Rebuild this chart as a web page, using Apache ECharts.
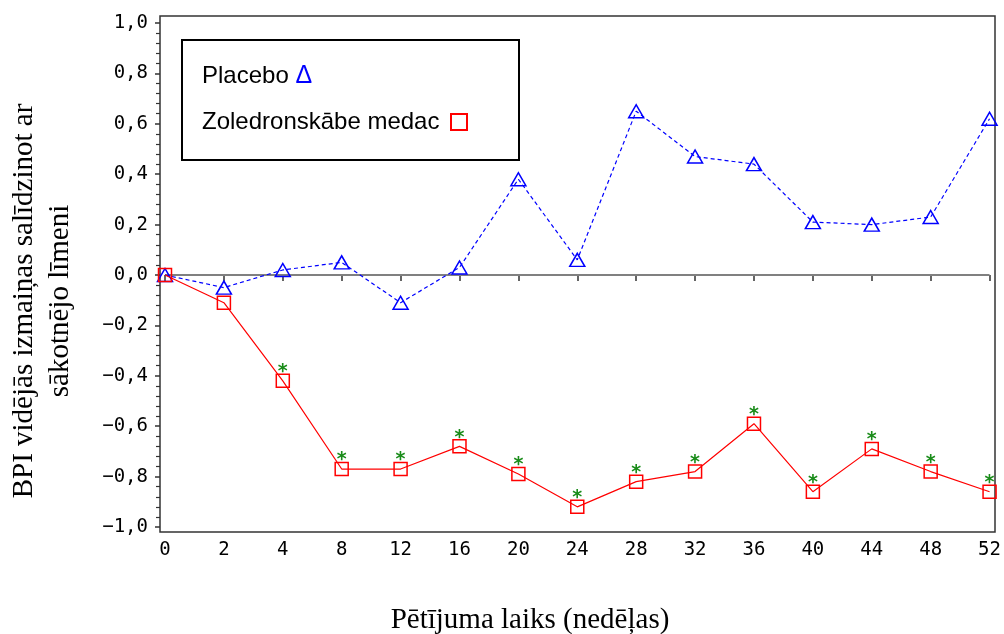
<!DOCTYPE html>
<html>
<head>
<meta charset="utf-8">
<script src="https://cdn.jsdelivr.net/npm/echarts@6/dist/echarts.min.js"></script>
<style>
  html, body { margin: 0; padding: 0; background: #fff; }
  #chart { width: 1004px; height: 634px; }
</style>
</head>
<body>
<div id="chart"></div>
<script>
// ---- data ----
const weeks = ['0', '2', '4', '8', '12', '16', '20', '24', '28', '32', '36', '40', '44', '48', '52'];
const placeboValues = [0.0, -0.05, 0.02, 0.05, -0.11, 0.03, 0.38, 0.06, 0.65, 0.47, 0.44, 0.21, 0.20, 0.23, 0.62];
const zoledronValues = [0.0, -0.11, -0.42, -0.77, -0.77, -0.68, -0.79, -0.92, -0.82, -0.78, -0.59, -0.86, -0.69, -0.78, -0.86];
const zoledronSignificant = [0, 0, 1, 1, 1, 1, 1, 1, 1, 1, 1, 1, 1, 1, 1];
const yTicks = { min: -1.0, max: 1.0, step: 0.2 };
const seriesNames = ['Placebo', 'Zoledronskābe medac'];
const xTitle = 'Pētījuma laiks (nedēļas)';
const yTitle = 'BPI vidējās izmaiņas salīdzinot ar\nsākotnējo līmeni';

const monoFont = 'DejaVu Sans Mono';
const chart = echarts.init(document.getElementById('chart'), null, { renderer: 'canvas' });

function fmtY(v) {
  let s = Math.abs(v) < 1e-9 ? '0,0' : Math.abs(v).toFixed(1).replace('.', ',');
  if (v < -1e-9) s = '\u2212' + s;
  return s;
}

const option = {
  animation: false,
  backgroundColor: '#ffffff',
  grid: { left: 165, right: 14, top: 23, bottom: 107 },
  xAxis: {
    type: 'category',
    data: weeks,
    boundaryGap: false,
    offset: 5,
    axisLine: { show: false },
    axisTick: { show: true, length: 6, lineStyle: { color: '#333', width: 1.5 } },
    axisLabel: { color: '#000', fontFamily: monoFont, fontSize: 19, margin: 9 },
    splitLine: { show: false }
  },
  yAxis: {
    type: 'value',
    min: yTicks.min,
    max: yTicks.max,
    interval: yTicks.step,
    offset: 5,
    axisLine: { show: false },
    axisTick: { show: true, length: 5, lineStyle: { color: '#333', width: 1.5 } },
    minorTick: { show: true, splitNumber: 5, length: 4, lineStyle: { color: '#333', width: 1.2 } },
    axisLabel: { color: '#000', fontFamily: monoFont, fontSize: 19, margin: 12, formatter: fmtY },
    splitLine: { show: false }
  },
  series: [
    {
      name: seriesNames[0],
      type: 'line',
      data: placeboValues,
      symbol: 'triangle',
      symbolSize: [15, 13],
      color: '#0000ff',
      lineStyle: { color: '#0000ff', width: 1.2, type: [4, 3] },
      itemStyle: { color: 'rgba(0,0,0,0)', borderColor: '#0000ff', borderWidth: 1.5 },
      z: 3,
      markLine: {
        silent: true,
        symbol: 'none',
        label: { show: false },
        lineStyle: { color: '#808080', width: 2, type: 'solid' },
        data: [{ yAxis: 0 }],
        z: 1
      }
    },
    {
      name: seriesNames[1],
      type: 'line',
      data: zoledronValues.map((v, i) => ({
        value: v,
        label: { show: zoledronSignificant[i] === 1 }
      })),
      symbol: 'rect',
      symbolSize: 13,
      color: '#ff0000',
      lineStyle: { color: '#ff0000', width: 1.2, type: 'solid' },
      itemStyle: { color: 'rgba(0,0,0,0)', borderColor: '#ff0000', borderWidth: 1.5 },
      label: {
        position: 'top',
        distance: -8,
        formatter: '*',
        color: '#1a8c1a',
        fontFamily: monoFont,
        fontWeight: 'bold',
        fontSize: 19
      },
      z: 4
    }
  ],
  graphic: [
    {
      type: 'rect',
      shape: { x: 160, y: 16, width: 835, height: 516 },
      style: { fill: 'none', stroke: '#333', lineWidth: 1.5 },
      silent: true, z: 0
    },
    {
      type: 'rect',
      shape: { x: 182, y: 40, width: 337, height: 120 },
      style: { fill: '#fff', stroke: '#000', lineWidth: 2 },
      silent: true, z: 10
    },
    {
      type: 'text', x: 202, y: 76, z: 11,
      style: {
        text: 'Placebo {d|Δ}',
        fill: '#000', font: '24px "Liberation Sans"', verticalAlign: 'middle',
        rich: { d: { fill: '#0000ff', font: '25px "Liberation Sans"' } }
      }
    },
    {
      type: 'text', x: 202, y: 122, z: 11,
      style: {
        text: 'Zoledronskābe medac',
        fill: '#000', font: '24px "Liberation Sans"', verticalAlign: 'middle'
      }
    },
    {
      type: 'rect', z: 11,
      shape: { x: 451, y: 114, width: 16, height: 16 },
      style: { fill: 'none', stroke: '#ff0000', lineWidth: 2 }
    },
    {
      type: 'text', x: 530, y: 620, z: 11,
      style: {
        text: xTitle, fill: '#000', font: '29px "Liberation Serif"',
        align: 'center', verticalAlign: 'middle'
      }
    },
    {
      type: 'text', x: 42, y: 301, rotation: Math.PI / 2, z: 11,
      style: {
        text: yTitle, fill: '#000', font: '29px "Liberation Serif"',
        align: 'center', verticalAlign: 'middle', lineHeight: 36
      }
    }
  ]
};
chart.setOption(option);
</script>
</body>
</html>
